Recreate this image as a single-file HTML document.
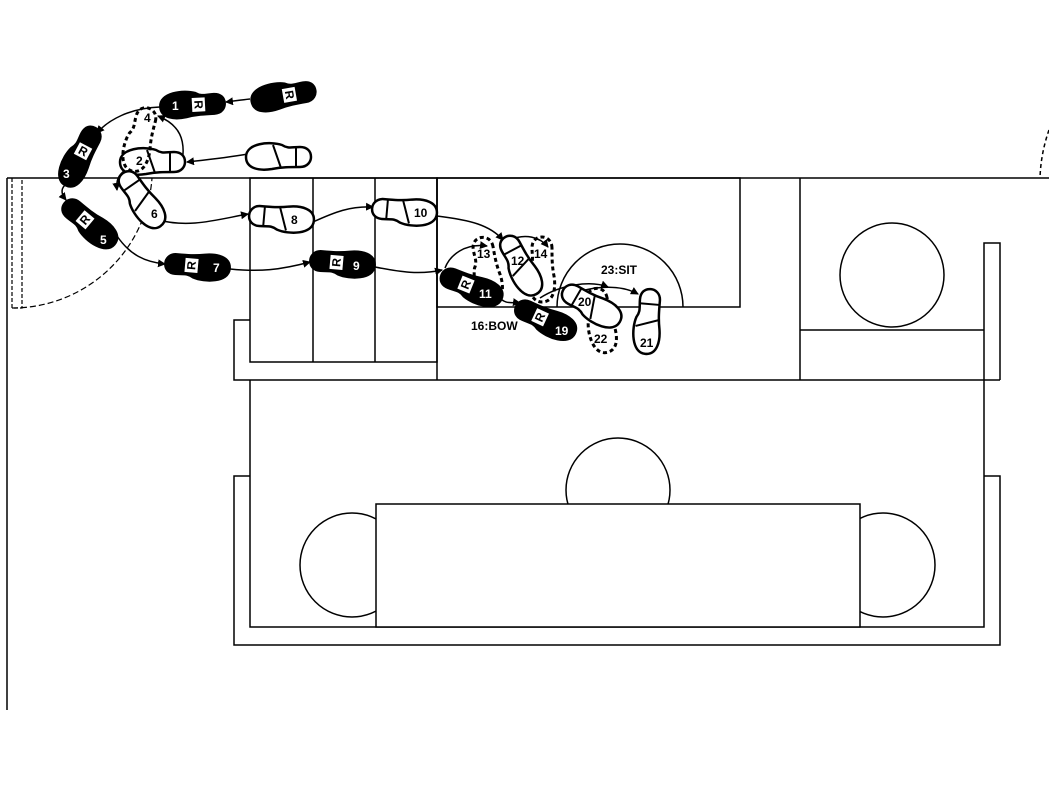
<!DOCTYPE html>
<html><head><style>html,body{margin:0;padding:0;background:#fff}svg{display:block}text{font-family:"Liberation Sans",sans-serif;font-weight:bold;font-size:12px}</style></head>
<body>
<svg width="1049" height="786" viewBox="0 0 1049 786" xmlns="http://www.w3.org/2000/svg">
<defs>
<path id="ft" d="M -22,-10 C -30,-10 -33,-4 -33,0 C -33,6 -29,10 -22,10 C -14,10 -10,8 -4,12 C 8,16 32,14 32,0 C 32,-12 18,-14 6,-12 C -4,-10 -12,-10 -22,-10 Z"/>
<g id="bf"><use href="#ft" fill="#000" stroke="#000" stroke-width="2"/><rect x="-13" y="-7" width="13" height="14" fill="#fff"/><text x="-6.5" y="4" font-size="11" text-anchor="middle" transform="rotate(-90 -6.5 0)">R</text></g>
<g id="wf"><use href="#ft" fill="#fff" stroke="#000" stroke-width="2.5"/><line x1="-18" y1="-10" x2="-18" y2="10" stroke="#000" stroke-width="2"/><line x1="-3" y1="-11" x2="5" y2="12" stroke="#000" stroke-width="2"/></g>
<g id="df"><use href="#ft" fill="none" stroke="#000" stroke-width="3" stroke-dasharray="4,3"/></g>
<marker id="ar" markerWidth="8" markerHeight="8" refX="7" refY="4" orient="auto" markerUnits="userSpaceOnUse"><path d="M0,0 L8,4 L0,8 Z"/></marker>
</defs>
<g fill="none" stroke="#000" stroke-width="1.5">
<line x1="7" y1="178" x2="1049" y2="178"/>
<line x1="7" y1="178" x2="7" y2="710"/>
<path d="M12,178 V308 H22 V178" stroke-dasharray="4,2" stroke-width="1.2"/>
<path d="M12,308 A140,140 0 0 0 152,178" stroke-dasharray="6,3" stroke-width="1.2"/>
<path d="M1049,130 A 160,160 0 0 0 1040,178" stroke-dasharray="4,3" stroke-width="1.5"/>
<rect x="250" y="178" width="187" height="184"/>
<line x1="313" y1="178" x2="313" y2="362"/>
<line x1="375" y1="178" x2="375" y2="362"/>
<path d="M250,320 H234 V380 H1000"/>
<line x1="437" y1="178" x2="437" y2="380"/>
<rect x="437" y="178" width="303" height="129"/>
<path d="M557,307 A63,63 0 0 1 683,307"/>
<line x1="800" y1="178" x2="800" y2="380"/>
<line x1="800" y1="330" x2="984" y2="330"/>
<circle cx="892" cy="275" r="52"/>
<path d="M984,380 V243 H1000 V380"/>
<path d="M250,380 V627 H984 V380"/>
<path d="M250,476 H234 V645 H1000 V476 H984"/>
<circle cx="618" cy="490" r="52"/>
<circle cx="352" cy="565" r="52"/>
<circle cx="883" cy="565" r="52"/>
<rect x="376" y="504" width="484" height="123" fill="#fff"/>
</g>
<g fill="none" stroke="#000" stroke-width="1.5" marker-end="url(#ar)">
<path d="M250,99 C240,100 235,101 226,102"/>
<path d="M248,154 C225,158 205,160 187,162"/>
<path d="M160,107 C130,108 108,120 97,133"/>
<path d="M182,163 C186,140 180,125 158,116"/>
<path d="M125,170 C118,176 116,180 117,190"/>
<path d="M65,185 C60,190 62,195 66,200"/>
<path d="M117,236 C130,255 145,262 165,264"/>
<path d="M158,220 C190,228 215,220 248,214"/>
<path d="M230,269 C260,272 280,270 310,262"/>
<path d="M313,222 C335,212 350,206 373,207"/>
<path d="M375,267 C400,272 420,275 442,270"/>
<path d="M437,216 C470,220 490,225 503,240"/>
<path d="M445,268 C450,255 465,243 487,246"/>
<path d="M498,296 C505,305 512,302 520,303"/>
<path d="M510,240 C525,233 540,237 548,247"/>
<path d="M540,298 C560,285 590,280 608,287"/>
<path d="M562,298 C590,285 620,284 638,294"/>
</g>
<use href="#bf" transform="translate(283,96) rotate(170)"/>
<use href="#bf" transform="translate(192,105) rotate(177)"/>
<use href="#wf" transform="translate(278,157) rotate(180)"/>
<use href="#wf" transform="translate(152,162) rotate(180)"/>
<use href="#df" transform="translate(140,140) rotate(105)"/>
<use href="#bf" transform="translate(80,157) rotate(118)"/>
<use href="#bf" transform="translate(90,224) rotate(40)"/>
<use href="#wf" transform="translate(142,200) rotate(55)"/>
<use href="#bf" transform="translate(198,266) rotate(5)"/>
<use href="#wf" transform="translate(282,218) rotate(5)"/>
<use href="#bf" transform="translate(343,263) rotate(5)"/>
<use href="#wf" transform="translate(405,211) rotate(5)"/>
<use href="#df" transform="translate(487,270) rotate(80)"/>
<use href="#df" transform="translate(542,270) rotate(90)"/>
<use href="#bf" transform="translate(472,287) rotate(22)"/>
<use href="#wf" transform="translate(521,266) rotate(62)"/>
<use href="#df" transform="translate(601,321) rotate(80)"/>
<use href="#bf" transform="translate(546,320) rotate(25)"/>
<use href="#wf" transform="translate(592,306) rotate(30)"/>
<use href="#wf" transform="translate(648,322) rotate(95)"/>
<g font-size="12">
<text x="172" y="110" fill="#fff">1</text>
<text x="136" y="165">2</text>
<text x="63" y="178" fill="#fff">3</text>
<text x="144" y="122">4</text>
<text x="100" y="244" fill="#fff">5</text>
<text x="151" y="218">6</text>
<text x="213" y="272" fill="#fff">7</text>
<text x="291" y="224">8</text>
<text x="353" y="270" fill="#fff">9</text>
<text x="414" y="217">10</text>
<text x="479" y="298" fill="#fff">11</text>
<text x="511" y="265">12</text>
<text x="477" y="258">13</text>
<text x="534" y="258">14</text>
<text x="555" y="335" fill="#fff">19</text>
<text x="578" y="306">20</text>
<text x="640" y="347">21</text>
<text x="594" y="343">22</text>
<text x="471" y="330">16:BOW</text>
<text x="601" y="274">23:SIT</text>
</g>
</svg>
</body></html>
